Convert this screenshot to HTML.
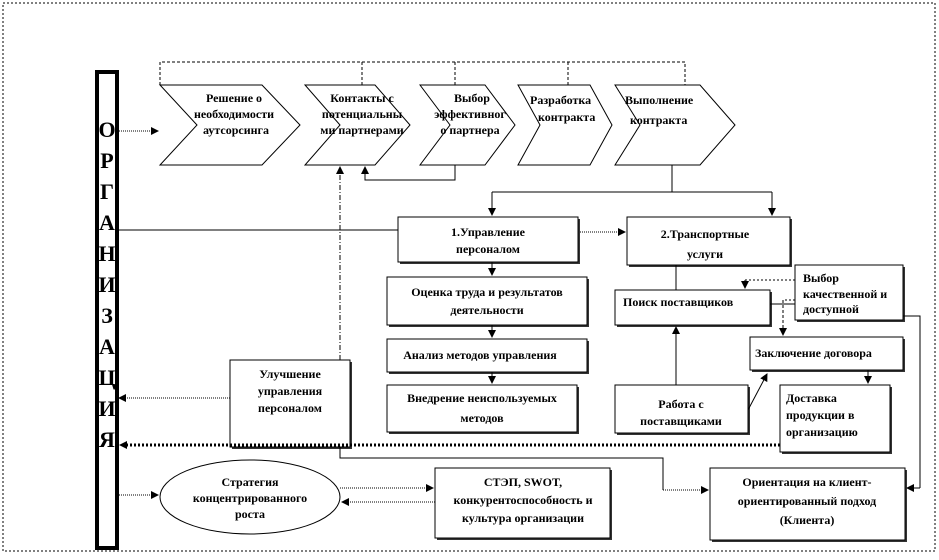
<!DOCTYPE html>
<html><head><meta charset="utf-8"><style>
body{margin:0;background:#fff}
svg text{font-family:"Liberation Serif","Noto Serif CJK SC",serif;font-weight:bold;font-size:12px;fill:#000}
</style></head><body>
<svg width="939" height="555" viewBox="0 0 939 555" xmlns="http://www.w3.org/2000/svg">
<defs>
<marker id="a" markerWidth="8" markerHeight="8" refX="7" refY="4" orient="auto" markerUnits="userSpaceOnUse"><path d="M0,0 L8,4 L0,8z" fill="#000"/></marker>
</defs>
<rect x="3" y="3" width="932" height="548" fill="none" stroke="#000" stroke-dasharray="2,2"/>
<rect x="97" y="72" width="20" height="476" fill="#fff" stroke="#000" stroke-width="4"/>
<g text-anchor="middle">
<text x="107" y="137" style="font-size:22px">О</text>
<text x="107" y="168" style="font-size:22px">Р</text>
<text x="107" y="199" style="font-size:22px">Г</text>
<text x="107" y="230" style="font-size:22px">А</text>
<text x="107" y="261" style="font-size:22px">Н</text>
<text x="107" y="292" style="font-size:22px">И</text>
<text x="107" y="323" style="font-size:22px">З</text>
<text x="107" y="354" style="font-size:22px">А</text>
<text x="107" y="385" style="font-size:22px">Ц</text>
<text x="107" y="416" style="font-size:22px">И</text>
<text x="107" y="447" style="font-size:22px">Я</text>
</g>
<path d="M160,85 V62 H685 V85 M362,62 V85 M455,62 V85 M568,62 V85" fill="none" stroke="#000" stroke-dasharray="3,2"/>
<g fill="#fff" stroke="#000">
<polygon points="160,85 262,85 300,125 262,165 160,165 197,125"/>
<polygon points="305,85 375,85 410,125 375,165 305,165 340,125"/>
<polygon points="420,85 485,85 515,125 485,165 420,165 450,125"/>
<polygon points="518,85 590,85 612,125 590,165 518,165 540,125"/>
<polygon points="615,85 700,85 735,125 700,165 615,165 640,125"/>
</g>
<g text-anchor="middle" style="font-size:11px">
<text x="234" y="102">Решение о</text><text x="234" y="118">необходимости</text><text x="236" y="134">аутсорсинга</text>
<text x="362" y="102">Контакты с</text><text x="362" y="118">потенциальны</text><text x="362" y="134">ми партнерами</text>
<text x="472" y="102">Выбор</text><text x="470" y="118">эффективног</text><text x="470" y="134">о партнера</text>
</g>
<text x="530" y="104">Разработка</text><text x="538" y="121">контракта</text>
<text x="625" y="104">Выполнение</text><text x="630" y="124">контракта</text>
<line x1="117" y1="131" x2="158" y2="131" stroke="#000" stroke-dasharray="1,1" marker-end="url(#a)"/>
<path d="M455,165 V180 H365 V167" fill="none" stroke="#000" marker-end="url(#a)"/>
<line x1="340" y1="360" x2="340" y2="167" stroke="#000" stroke-dasharray="5,2,1,2" marker-end="url(#a)"/>
<path d="M672,165 V192 M492,192 H772" fill="none" stroke="#000"/>
<line x1="492" y1="192" x2="492" y2="215" stroke="#000" marker-end="url(#a)"/>
<line x1="772" y1="192" x2="772" y2="215" stroke="#000" marker-end="url(#a)"/>
<line x1="117" y1="230" x2="398" y2="230" stroke="#000"/>
<line x1="578" y1="232" x2="625" y2="232" stroke="#000" stroke-dasharray="1,1" marker-end="url(#a)"/>
<g fill="#fff" stroke="#000">
<rect x="400" y="219" width="180" height="45" fill="#333" stroke="none"/><rect x="398" y="217" width="180" height="45"/>
<rect x="629" y="219" width="163" height="48" fill="#333" stroke="none"/><rect x="627" y="217" width="163" height="48"/>
<rect x="389" y="279" width="200" height="48" fill="#333" stroke="none"/><rect x="387" y="277" width="200" height="48"/>
<rect x="389" y="341" width="200" height="33" fill="#333" stroke="none"/><rect x="387" y="339" width="200" height="33"/>
<rect x="389" y="387" width="190" height="47" fill="#333" stroke="none"/><rect x="387" y="385" width="190" height="47"/>
<rect x="232" y="362" width="120" height="87" fill="#333" stroke="none"/><rect x="230" y="360" width="120" height="87"/>
<rect x="617" y="292" width="155" height="35" fill="#333" stroke="none"/><rect x="615" y="290" width="155" height="35"/>
<rect x="797" y="267" width="108" height="55" fill="#333" stroke="none"/><rect x="795" y="265" width="108" height="55"/>
<rect x="752" y="339" width="153" height="33" fill="#333" stroke="none"/><rect x="750" y="337" width="153" height="33"/>
<rect x="617" y="387" width="133" height="48" fill="#333" stroke="none"/><rect x="615" y="385" width="133" height="48"/>
<rect x="782" y="387" width="110" height="67" fill="#333" stroke="none"/><rect x="780" y="385" width="110" height="67"/>
<rect x="437" y="470" width="175" height="70" fill="#333" stroke="none"/><rect x="435" y="468" width="175" height="70"/>
<rect x="712" y="470" width="195" height="72" fill="#333" stroke="none"/><rect x="710" y="468" width="195" height="72"/>
<ellipse cx="250" cy="497" rx="90" ry="37"/>
</g>
<g text-anchor="middle">
<text x="488" y="236">1.Управление</text><text x="488" y="253">персоналом</text>
<text x="705" y="238">2.Транспортные</text><text x="705" y="258">услуги</text>
<text x="487" y="296">Оценка труда и результатов</text><text x="487" y="314">деятельности</text>
<text x="480" y="359">Анализ методов управления</text>
<text x="482" y="402">Внедрение неиспользуемых</text><text x="482" y="422">методов</text>
<text x="290" y="378">Улучшение</text><text x="290" y="395">управления</text><text x="290" y="412">персоналом</text>
<text x="523" y="486">СТЭП, SWOT,</text><text x="523" y="504">конкурентоспособность и</text><text x="523" y="522">культура организации</text>
<text x="807" y="486">Ориентация на клиент-</text><text x="807" y="505">ориентированный подход</text><text x="807" y="524">(Клиента)</text>
<text x="250" y="486">Стратегия</text><text x="250" y="502">концентрированного</text><text x="250" y="518">роста</text>
<text x="681" y="408">Работа с</text><text x="681" y="425">поставщиками</text>
</g>
<g style="font-size:11px">
<text x="623" y="306">Поиск поставщиков</text>
<text x="803" y="282">Выбор</text><text x="803" y="298">качественной и</text><text x="803" y="313">доступной</text>
<text x="755" y="357">Заключение договора</text>
<text x="786" y="402">Доставка</text><text x="786" y="419">продукции в</text><text x="786" y="436">организацию</text>
</g>
<line x1="492" y1="262" x2="492" y2="275" stroke="#000" marker-end="url(#a)"/>
<line x1="492" y1="325" x2="492" y2="337" stroke="#000" marker-end="url(#a)"/>
<line x1="492" y1="372" x2="492" y2="383" stroke="#000" marker-end="url(#a)"/>
<line x1="230" y1="398" x2="119" y2="398" stroke="#000" stroke-dasharray="1,1" marker-end="url(#a)"/>
<line x1="780" y1="445" x2="120" y2="445" stroke="#000" stroke-width="3" stroke-dasharray="2,2" marker-end="url(#a)"/>
<path d="M340,447 V458 H663 V490" fill="none" stroke="#000"/>
<line x1="663" y1="490" x2="708" y2="490" stroke="#000" stroke-dasharray="1,1" marker-end="url(#a)"/>
<line x1="676" y1="265" x2="676" y2="290" stroke="#000"/>
<line x1="676" y1="385" x2="676" y2="327" stroke="#000" marker-end="url(#a)"/>
<line x1="770" y1="304" x2="795" y2="304" stroke="#000"/>
<path d="M795,280 H745" fill="none" stroke="#000" stroke-dasharray="2,2"/>
<line x1="745" y1="280" x2="745" y2="288" stroke="#000" marker-end="url(#a)"/>
<path d="M795,300 H783" fill="none" stroke="#000" stroke-dasharray="2,2"/>
<line x1="783" y1="300" x2="783" y2="335" stroke="#000" stroke-dasharray="3,2" marker-end="url(#a)"/>
<line x1="748" y1="410" x2="767" y2="374" stroke="#000" marker-end="url(#a)"/>
<line x1="868" y1="370" x2="868" y2="383" stroke="#000" marker-end="url(#a)"/>
<path d="M903,316 H920 V488" fill="none" stroke="#000"/>
<line x1="920" y1="488" x2="907" y2="488" stroke="#000" marker-end="url(#a)"/>
<line x1="117" y1="495" x2="158" y2="495" stroke="#000" stroke-dasharray="1,1" marker-end="url(#a)"/>
<line x1="340" y1="488" x2="433" y2="488" stroke="#000" stroke-dasharray="1,1" marker-end="url(#a)"/>
<line x1="435" y1="502" x2="342" y2="502" stroke="#000" stroke-dasharray="1,1" marker-end="url(#a)"/>
</svg>
</body></html>
